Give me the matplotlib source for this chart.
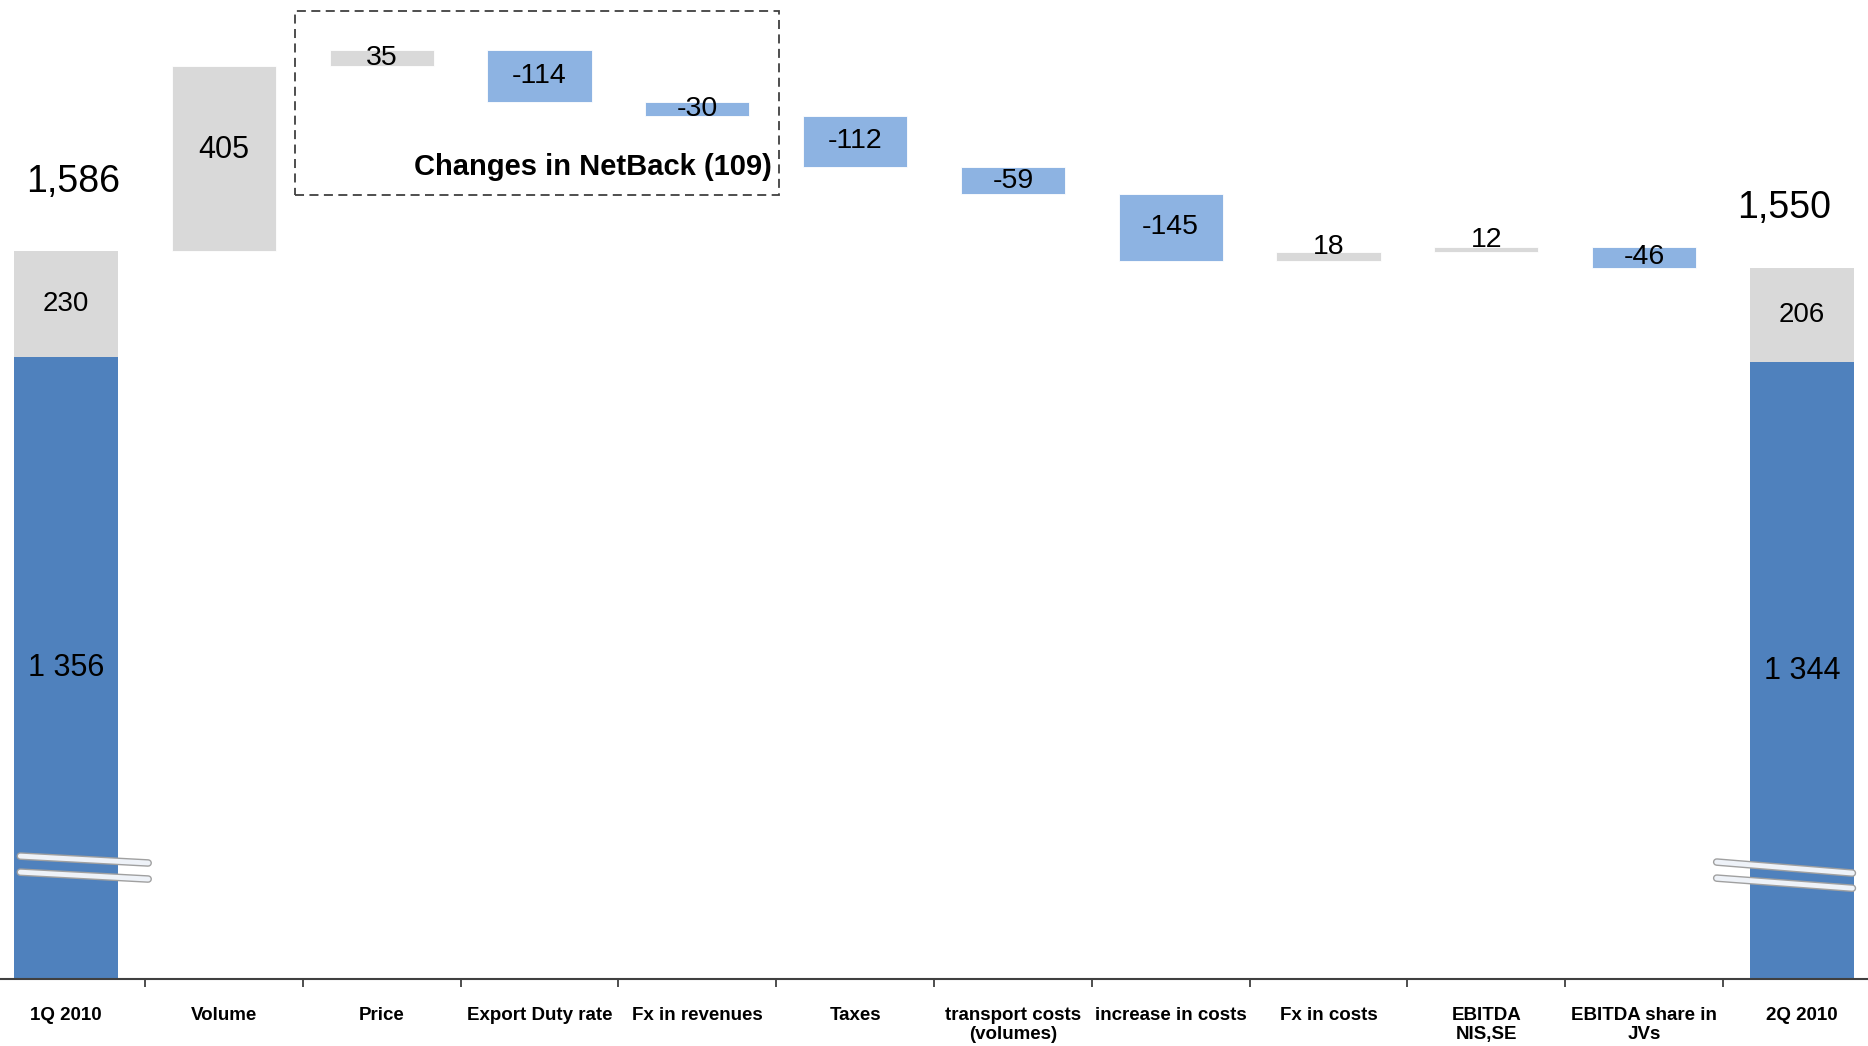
import numpy as np
import matplotlib
matplotlib.use("Agg")
import matplotlib.pyplot as plt
from matplotlib.patches import Rectangle
import matplotlib.patheffects as pe

plt.rcParams['font.family'] = ['Liberation Sans', 'DejaVu Sans']

# --- data ---
categories = ["1Q 2010", "Volume", "Price", "Export Duty rate", "Fx in revenues",
              "Taxes", "transport costs\n(volumes)", "increase in costs", "Fx in costs",
              "EBITDA\nNIS,SE", "EBITDA share in\nJVs", "2Q 2010"]
start_base = 1356
start_other = 230
end_base = 1344
end_other = 206
deltas = [405, 35, -114, -30, -112, -59, -145, 18, 12, -46]
netback_total = -109

DARK_BLUE = '#4F81BD'
LIGHT_BLUE = '#8DB3E2'
GREY = '#D9D9D9'

fig = plt.figure(figsize=(18.68, 10.46), dpi=100)
# category slots run past the figure edges a little, as in the original slide
ax = fig.add_axes([-0.00685, 0.064, 1.0137, 0.936])

n = len(categories)
x = np.arange(n)
w = 0.66

# start and end totals (stacked)
start_total = start_base + start_other
end_total = end_base + end_other
ax.bar(x[0], start_base, w, color=DARK_BLUE)
ax.bar(x[0], start_other, w, bottom=start_base, color=GREY)
ax.bar(x[-1], end_base, w, color=DARK_BLUE)
ax.bar(x[-1], end_other, w, bottom=end_base, color=GREY)

# floating deltas
level = start_total
for i, d in enumerate(deltas):
    xi = x[i + 1]
    bottom = level if d >= 0 else level + d
    col = GREY if d >= 0 else LIGHT_BLUE
    ax.bar(xi, abs(d), w, bottom=bottom, color=col, edgecolor='white', linewidth=0.6)
    mid = bottom + abs(d) / 2
    if abs(d) < 25 and d > 0:
        off = 7
    elif abs(d) > 300:
        off = 6
    else:
        off = 0
    fs = 22 if abs(d) > 300 else 20.5
    ax.annotate(f"{d}", (xi, mid), xytext=(0, off), textcoords='offset points',
                ha='center', va='center', fontsize=fs, color='black')
    level += d

# labels on totals
def spaced(v):
    return f"{v:,}".replace(",", " ")

ax.text(x[0], start_base / 2, spaced(start_base), ha='center', va='center', fontsize=22)
ax.text(x[0], start_base + start_other / 2, str(start_other), ha='center', va='center', fontsize=20)
ax.text(x[-1], end_base / 2, spaced(end_base), ha='center', va='center', fontsize=22)
ax.text(x[-1], end_base + end_other / 2, str(end_other), ha='center', va='center', fontsize=20)
ax.annotate(f"{start_total:,}", (x[0], start_total), xytext=(5, 50), textcoords='offset points',
            ha='center', va='center', fontsize=27)
ax.annotate(f"{end_total:,}", (x[-1], end_total), xytext=(-13, 43), textcoords='offset points',
            ha='center', va='center', fontsize=27)

# dashed box around the netback items
box = Rectangle((1.45, 1710), 3.07, 400, fill=False, linestyle=(0, (5, 3)),
                edgecolor='#404040', linewidth=1.3)
ax.add_patch(box)
ax.text(4.47, 1770, f"Changes in NetBack ({abs(netback_total)})", ha='right', va='center',
        fontsize=21, fontweight='bold')

# axis break marks on the two big bars
brk_fx = [pe.Stroke(linewidth=5.5, foreground='#A0A0A0'), pe.Normal()]
for x0, x1, y0, y1 in [(-0.29, 0.52, 268, 253), (-0.29, 0.52, 233, 218),
                       (10.46, 11.32, 255, 231), (10.46, 11.32, 220, 198)]:
    ax.plot([x0, x1], [y0, y1], color='#EEF2F8', linewidth=3.5, solid_capstyle='round',
            path_effects=brk_fx, zorder=5)

ax.set_xlim(-0.5, n - 0.5)
ax.set_ylim(0, 2134)

for s in ['top', 'right', 'left']:
    ax.spines[s].set_visible(False)
ax.spines['bottom'].set_color('#404040')
ax.spines['bottom'].set_linewidth(1.5)
ax.set_yticks([])
ax.set_xticks(x)
ax.set_xticklabels(categories, fontsize=13.5, fontweight='bold',
                   family=['Liberation Sans Narrow', 'Liberation Sans'], linespacing=1.15)
ax.tick_params(axis='x', which='major', length=0, pad=20)
ax.set_xticks(x[:-1] + 0.5, minor=True)
ax.tick_params(axis='x', which='minor', length=6, width=1.3, color='#404040')

fig.savefig("out.png", dpi=100)
